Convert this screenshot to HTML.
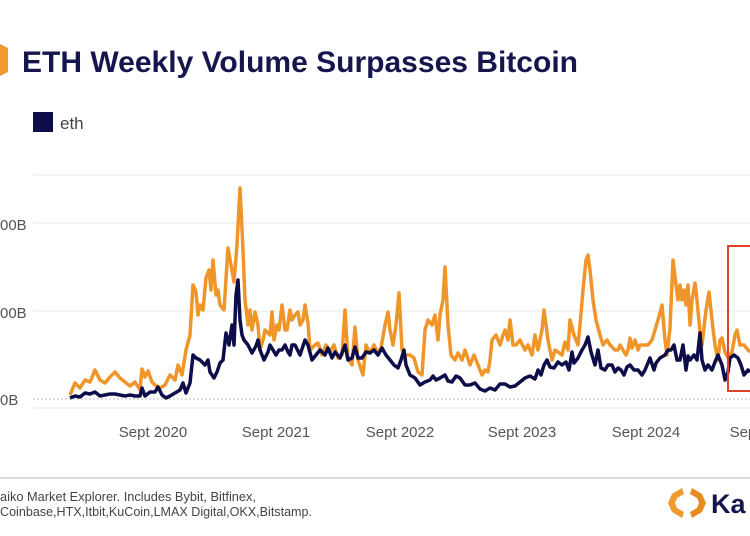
<!DOCTYPE html>
<html><head><meta charset="utf-8"><style>
html,body{margin:0;padding:0;background:#fff;width:750px;height:536px;overflow:hidden;font-family:"Liberation Sans",sans-serif}
</style></head><body>
<svg width="750" height="536" viewBox="0 0 750 536" xmlns="http://www.w3.org/2000/svg" font-family="Liberation Sans, sans-serif">
<path d="M0,44 L8,48 L8,72 L0,76 Z" fill="#f29a2e"/>
<text x="22" y="72" font-size="30" font-weight="bold" fill="#15164d" textLength="556" lengthAdjust="spacingAndGlyphs">ETH Weekly Volume Surpasses Bitcoin</text>
<rect x="33" y="112" width="20" height="20" fill="#0d0d4a"/>
<text x="60" y="129" font-size="17" fill="#444">eth</text>
<g stroke="#e8e8e8" stroke-width="1">
<line x1="33" y1="175" x2="750" y2="175"/>
<line x1="33" y1="223" x2="750" y2="223"/>
<line x1="33" y1="311" x2="750" y2="311"/>
<line x1="33" y1="408" x2="750" y2="408"/>
</g>
<line x1="33" y1="399" x2="750" y2="399" stroke="#bbb" stroke-width="1" stroke-dasharray="2,2"/>
<g font-size="15" fill="#555">
<text x="0" y="230">00B</text>
<text x="0" y="318">00B</text>
<text x="0" y="405">0B</text>
</g>
<g font-size="15" fill="#555" text-anchor="middle">
<text x="153" y="437">Sept 2020</text>
<text x="276" y="437">Sept 2021</text>
<text x="400" y="437">Sept 2022</text>
<text x="522" y="437">Sept 2023</text>
<text x="646" y="437">Sept 2024</text>
<text x="745" y="437">Sept</text>
</g>
<polyline fill="none" stroke="#f0952a" stroke-width="3.5" stroke-linejoin="round" points="70,395 75,383 80,388 85,380 90,382 95,370 100,380 105,383 110,377 115,372 120,378 125,382 130,386 135,382 140,390 142,369 145,377 148,371 152,382 155,385 160,388 165,385 170,375 175,380 178,365 182,375 186,350 190,335 193,285 196,292 198,315 200,305 203,310 206,278 209,270 211,290 213,260 216,295 218,290 220,305 224,310 228,248 231,265 234,282 237,245 240,188 243,250 245,300 248,325 250,310 252,330 255,312 258,325 260,350 263,340 265,330 268,333 270,335 272,312 274,340 277,325 279,330 282,305 285,330 287,330 290,310 292,320 295,315 298,312 300,325 303,320 305,305 308,323 310,350 315,345 318,343 322,355 326,345 330,352 334,345 338,358 342,355 345,310 348,358 352,365 355,327 358,360 363,375 366,345 370,353 374,345 378,353 381,348 385,325 388,312 390,330 393,345 396,325 399,293 402,350 405,355 410,355 414,358 418,372 422,375 425,330 428,320 432,325 435,315 438,340 440,315 443,300 445,267 448,325 451,355 455,360 458,353 462,360 465,350 470,365 474,355 478,365 482,375 485,370 488,372 490,360 492,340 496,335 500,345 503,335 505,330 508,340 510,320 513,345 516,345 520,340 525,350 528,345 532,355 535,335 538,350 542,330 544,310 548,340 552,360 555,350 558,352 562,355 565,342 568,350 570,320 574,335 578,345 580,325 583,290 586,260 588,255 590,270 593,300 596,320 600,335 603,345 607,340 610,345 615,350 618,350 620,345 623,350 626,355 628,350 630,338 632,348 635,340 638,350 640,345 645,345 648,345 652,340 655,330 658,320 660,313 662,305 665,340 667,355 670,328 673,260 676,285 678,300 680,285 682,300 684,290 686,305 688,285 690,325 692,300 695,283 697,300 700,332 702,345 706,310 709,292 712,320 715,345 718,360 720,340 722,338 725,352 728,358 732,352 735,335 737,330 740,345 744,345 748,350 750,352"/>
<polyline fill="none" stroke="#0d0d4a" stroke-width="3.5" stroke-linejoin="round" points="70,398 75,396 80,397 85,393 90,394 95,392 100,396 105,395 110,394 115,394 120,395 125,396 130,395 135,396 140,396 142,388 145,396 150,392 155,392 158,387 162,395 166,398 170,396 175,393 180,390 183,383 186,393 190,383 193,355 196,358 200,360 205,365 208,360 210,372 214,378 217,372 220,363 223,360 226,333 229,345 232,325 234,345 236,295 238,280 240,320 242,335 244,340 248,345 252,353 256,346 258,340 260,350 264,360 268,352 270,345 273,350 276,355 279,350 282,350 285,345 288,352 290,355 292,345 295,345 300,355 305,340 308,345 312,360 316,355 320,350 325,355 328,348 332,358 335,352 340,358 345,345 348,360 352,358 355,347 358,358 362,358 366,352 370,353 374,350 378,355 382,348 386,355 390,360 394,365 398,368 401,360 404,350 406,365 410,375 415,378 420,385 425,382 430,380 433,376 436,380 440,378 445,375 448,381 452,382 456,376 460,378 465,385 470,385 475,383 480,389 485,391 490,388 495,390 500,384 505,384 510,387 515,386 520,382 525,378 530,376 535,379 538,370 541,375 544,365 547,360 550,367 554,368 558,362 562,365 566,362 569,370 572,352 574,363 578,358 582,350 585,345 588,337 591,352 595,365 598,350 601,368 605,370 608,365 612,365 615,372 618,368 621,370 624,375 627,367 630,365 634,370 638,370 642,375 645,370 650,358 654,370 656,363 660,358 665,355 668,350 671,350 674,345 677,360 680,360 683,345 686,370 688,356 690,360 694,355 697,360 700,333 702,360 705,370 708,365 712,370 715,362 718,355 722,365 725,380 728,372 730,358 734,355 738,358 741,365 744,375 748,370 750,372"/>
<rect x="728" y="246" width="30" height="145" fill="none" stroke="#e0412b" stroke-width="2"/>
<line x1="0" y1="478" x2="750" y2="478" stroke="#ddd" stroke-width="2"/>
<text x="0" y="501" font-size="12.5" fill="#444" textLength="256" lengthAdjust="spacingAndGlyphs">aiko Market Explorer. Includes Bybit, Bitfinex,</text>
<text x="0" y="516" font-size="12.5" fill="#444" textLength="312" lengthAdjust="spacingAndGlyphs">Coinbase,HTX,Itbit,KuCoin,LMAX Digital,OKX,Bitstamp.</text>
<g fill="#f29a2e">
<path d="M682,488 L672,494 L668,503 L672,512 L682,518 L684,512 L677,508 L675,503 L677,498 L684,494 Z"/>
<path d="M692,488 L702,494 L706,503 L702,512 L692,518 L690,512 L697,508 L699,503 L697,498 L690,494 Z" fill="#e88a1f"/>
</g>
<text x="711" y="513" font-size="27" font-weight="bold" fill="#15164d">Ka</text>
</svg>
</body></html>
